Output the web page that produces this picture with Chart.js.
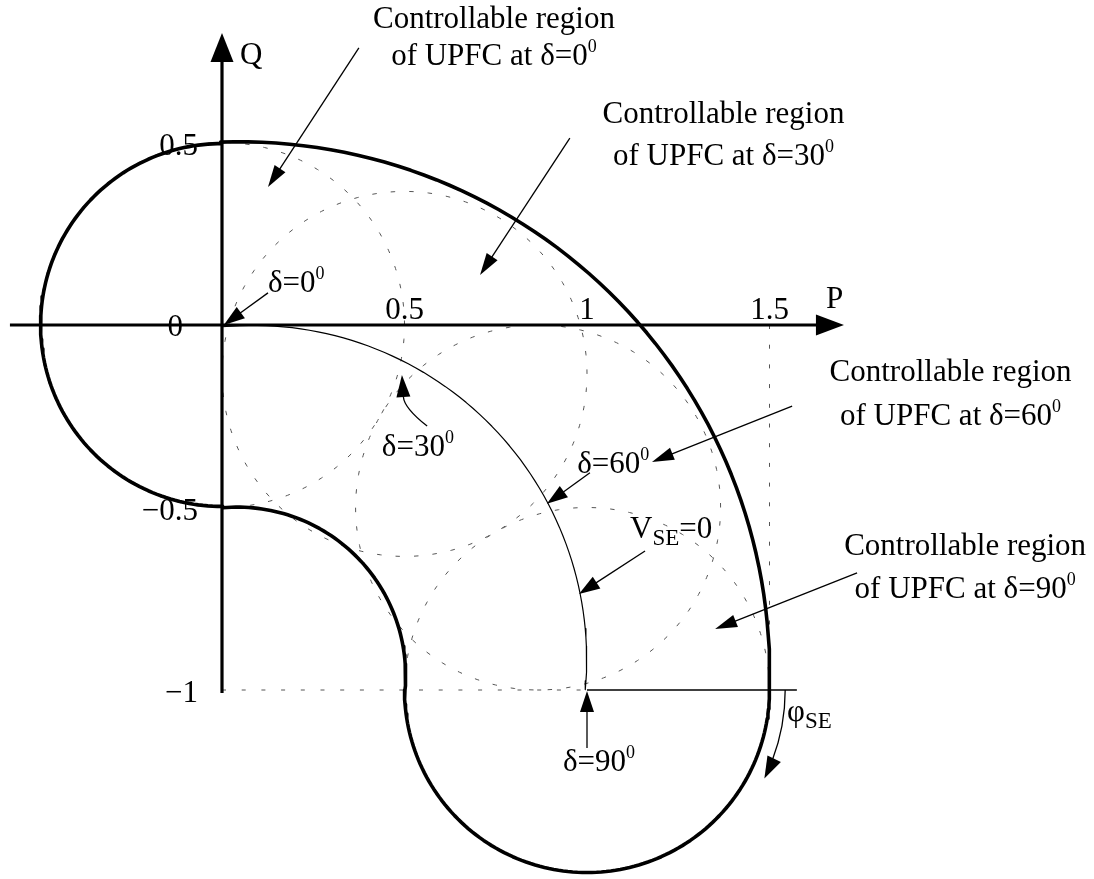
<!DOCTYPE html>
<html>
<head>
<meta charset="utf-8">
<script src="https://cdn.jsdelivr.net/npm/chart.js@4.4.1/dist/chart.umd.min.js"></script>
<style>
html, body { margin: 0; padding: 0; background: #ffffff; }
#wrap { width: 1094px; height: 879px; }
</style>
</head>
<body>
<div id="wrap"><canvas id="pq" width="1094" height="879"></canvas></div>
<script>
// Load angles and the matching uncompensated operating points (V_SE = 0)
const deltaDeg = [0, 30, 60, 90];
const pointP = [0, 0.5, 0.866, 1];        // P0 = sin δ
const pointQ = [0, -0.134, -0.5, -1];     // Q0 = cos δ − 1
const seriesRadius = 0.5;                 // largest series injected voltage

// Envelope of the overall controllable region, traced arc by arc (degrees)
const boundCenterP = [0, 0.042, 1, 0.047];
const boundCenterQ = [0, -0.960, -1, -0.951];
const boundRadius = [0.497, 0.461, 0.5, 1.453];
const boundFrom = [90, 95, 180, -2];
const boundTo = [270, -5, 360, 92];

// Locus of the natural operating point (V_SE = 0)
const locusCenter = [0.084, -0.916];
const locusRadius = 0.915;
const locusSpan = [95.2, -5.2];

// Axis ticks
const pTicks = [0.5, 1, 1.5];
const pTickLabels = ['0.5', '1', '1.5'];
const qTicks = [0.5, -0.5, -1];
const qTickLabels = ['0.5', '\u22120.5', '\u22121'];

// Reference lines at Q = −1 and P = 1.5
const guideQ = -1;
const guideP = 1.5;
const phiRefEnd = 1.575;

// ---------------------------------------------------------------------
const X_MIN = -222 / 365, X_MAX = (1094 - 222) / 365;
const Y_MAX = 325 / 365, Y_MIN = -(879 - 325) / 365;

function arcPoints(cp, cq, r, a0, a1) {
  const n = Math.max(2, Math.ceil(Math.abs(a1 - a0) / 1.5) + 1);
  const pts = [];
  for (let i = 0; i < n; i++) {
    const a = (a0 + (a1 - a0) * i / (n - 1)) * Math.PI / 180;
    pts.push({ x: cp + r * Math.cos(a), y: cq + r * Math.sin(a) });
  }
  return pts;
}

let boundary = [];
for (let i = 0; i < boundRadius.length; i++) {
  boundary = boundary.concat(arcPoints(boundCenterP[i], boundCenterQ[i], boundRadius[i], boundFrom[i], boundTo[i]));
}
boundary.push(boundary[0]);

const locus = arcPoints(locusCenter[0], locusCenter[1], locusRadius, locusSpan[0], locusSpan[1]);

const DASH = [4.5, 14];
function lineSet(data, opts) {
  return Object.assign({
    data, showLine: true, fill: false, tension: 0,
    pointRadius: 0, pointHoverRadius: 0,
    borderColor: '#000', borderWidth: 1, borderCapStyle: 'butt', borderJoinStyle: 'round'
  }, opts);
}

const datasets = [
  lineSet(boundary, { borderWidth: 3.6, order: 0 }),
  lineSet([{ x: -0.581, y: 0 }, { x: 1.63, y: 0 }], { borderWidth: 3.2, order: 1 }),
  lineSet([{ x: 0, y: -1.008 }, { x: 0, y: 0.77 }], { borderWidth: 3.2, order: 1 }),
  lineSet(locus, { borderWidth: 1.2, order: 2 }),
  lineSet([{ x: pointP[3], y: guideQ }, { x: phiRefEnd, y: guideQ }], { borderWidth: 1.5, order: 2 }),
  lineSet([{ x: 0, y: guideQ }, { x: pointP[3], y: guideQ }], { borderColor: '#555', borderDash: [4, 15.7], order: 5 }),
  lineSet([{ x: guideP, y: 0 }, { x: guideP, y: guideQ }], { borderColor: '#555', borderDash: [4, 15.7], order: 5 })
];
for (let i = 0; i < deltaDeg.length; i++) {
  datasets.push(lineSet(arcPoints(pointP[i], pointQ[i], seriesRadius, 0, 360),
    { borderColor: '#555', borderDash: DASH, order: 6 }));
}

// Callouts (positions in P/Q units)
const regionNotes = [
  { cx: 0.745, b1: 0.814, b2: 0.712, from: [0.375, 0.759], to: [0.126, 0.378] },
  { cx: 1.374, b1: 0.553, b2: 0.438, from: [0.953, 0.512], to: [0.707, 0.137] },
  { cx: 1.996, b1: -0.153, b2: -0.274, from: [1.562, -0.222], to: [1.178, -0.375] },
  { cx: 2.036, b1: -0.630, b2: -0.748, from: [1.740, -0.679], to: [1.351, -0.833] }
];
const pointNotes = [
  { x: 0.126, y: 0.090, from: [0.126, 0.088], to: [0.005, 0.0] },
  { x: 0.438, y: -0.359, from: [0.562, -0.277], ctrl: [0.499, -0.227], to: [0.493, -0.137] },
  { x: 0.973, y: -0.405, from: [1.008, -0.405], to: [0.890, -0.490] },
  { x: 0.934, y: -1.222, from: [1.0, -1.159], to: [1.0, -1.003] }
];
const vseNote = { x: 1.118, y: -0.584, from: [1.159, -0.619], to: [0.978, -0.737] };
const phiNote = { x: 1.548, y: -1.085, radius: 0.543, sweep: 26.5 };

const FONT = '"Liberation Serif", "Times New Roman", serif';
const SIZE = { n: 31, sup: 18, sub: 23 };
const SHIFT = { n: 0, sup: -13, sub: 7 };

function runsWidth(ctx, runs) {
  let w = 0;
  for (const [t, k] of runs) { ctx.font = SIZE[k] + 'px ' + FONT; w += ctx.measureText(t).width; }
  return w;
}
function drawRuns(ctx, runs, x, y, align) {
  const w = runsWidth(ctx, runs);
  let cx = align === 'center' ? x - w / 2 : align === 'right' ? x - w : x;
  ctx.textAlign = 'left';
  ctx.textBaseline = 'alphabetic';
  for (const [t, k] of runs) {
    ctx.font = SIZE[k] + 'px ' + FONT;
    ctx.fillText(t, cx, y + SHIFT[k]);
    cx += ctx.measureText(t).width;
  }
}
function head(ctx, tx, ty, dx, dy, len, half) {
  const d = Math.hypot(dx, dy); const ux = dx / d, uy = dy / d;
  const bx = tx - ux * len, by = ty - uy * len;
  ctx.beginPath();
  ctx.moveTo(tx, ty);
  ctx.lineTo(bx - uy * half, by + ux * half);
  ctx.lineTo(bx + uy * half, by - ux * half);
  ctx.closePath();
  ctx.fill();
  return [bx, by];
}
function arrow(ctx, x1, y1, x2, y2, len, half) {
  const [bx, by] = head(ctx, x2, y2, x2 - x1, y2 - y1, len, half);
  ctx.beginPath(); ctx.moveTo(x1, y1); ctx.lineTo(bx + (x2 - x1) * 0.02, by + (y2 - y1) * 0.02); ctx.stroke();
}

const notesPlugin = {
  id: 'notes',
  afterDatasetsDraw(chart) {
    const ctx = chart.ctx;
    const X = v => chart.scales.x.getPixelForValue(v);
    const Y = v => chart.scales.y.getPixelForValue(v);
    ctx.save();
    ctx.fillStyle = '#000';
    ctx.strokeStyle = '#000';

    // axis arrowheads and names
    head(ctx, X(1.704), Y(0), 1, 0, 28, 10.5);
    head(ctx, X(0), Y(0.8), 0, -1, 29, 11.5);
    drawRuns(ctx, [['P', 'n']], X(1.655), Y(0.047), 'left');
    drawRuns(ctx, [['Q', 'n']], X(0.049), Y(0.715), 'left');

    // tick labels
    pTicks.forEach((v, i) => drawRuns(ctx, [[pTickLabels[i], 'n']], X(v), Y(0) - 6, 'center'));
    qTicks.forEach((v, i) => drawRuns(ctx, [[qTickLabels[i], 'n']], X(0) - 24, Y(v) + 12, 'right'));
    drawRuns(ctx, [['0', 'n']], X(0) - 39, Y(0) + 11, 'right');

    ctx.lineWidth = 1.3;
    // controllable-region callouts
    regionNotes.forEach((n, i) => {
      drawRuns(ctx, [['Controllable region', 'n']], X(n.cx), Y(n.b1), 'center');
      drawRuns(ctx, [['of UPFC at \u03b4=' + deltaDeg[i], 'n'], ['0', 'sup']], X(n.cx), Y(n.b2), 'center');
      arrow(ctx, X(n.from[0]), Y(n.from[1]), X(n.to[0]), Y(n.to[1]), 22, 6.5);
    });

    // load-angle markers on the V_SE = 0 locus
    pointNotes.forEach((n, i) => {
      drawRuns(ctx, [['\u03b4=' + deltaDeg[i], 'n'], ['0', 'sup']], X(n.x), Y(n.y), 'left');
      if (n.ctrl) {
        const x1 = X(n.from[0]), y1 = Y(n.from[1]), cx = X(n.ctrl[0]), cy = Y(n.ctrl[1]);
        const x2 = X(n.to[0]), y2 = Y(n.to[1]);
        const [bx, by] = head(ctx, x2, y2, x2 - cx, y2 - cy, 22, 7);
        ctx.beginPath(); ctx.moveTo(x1, y1); ctx.quadraticCurveTo(cx, cy, bx, by); ctx.stroke();
      } else {
        arrow(ctx, X(n.from[0]), Y(n.from[1]), X(n.to[0]), Y(n.to[1]), 21, 7);
      }
    });

    // V_SE = 0
    drawRuns(ctx, [['V', 'n'], ['SE', 'sub'], ['=0', 'n']], X(vseNote.x), Y(vseNote.y), 'left');
    arrow(ctx, X(vseNote.from[0]), Y(vseNote.from[1]), X(vseNote.to[0]), Y(vseNote.to[1]), 21, 7);

    // angle of the series voltage
    drawRuns(ctx, [['\u03c6', 'n'], ['SE', 'sub']], X(phiNote.x), Y(phiNote.y), 'left');
    const ocx = X(pointP[3]), ocy = Y(pointQ[3]);
    const r = phiNote.radius * (X(1) - X(0));
    const t = phiNote.sweep * Math.PI / 180;
    const hl = 22;
    const tb = t - hl / r;
    ctx.beginPath(); ctx.arc(ocx, ocy, r, 0, tb + 0.01, false); ctx.stroke();
    head(ctx, ocx + r * Math.cos(t), ocy + r * Math.sin(t), -Math.sin(t), Math.cos(t), hl, 7.5);
    ctx.restore();
  }
};

new Chart(document.getElementById('pq'), {
  type: 'scatter',
  data: { datasets },
  options: {
    responsive: false,
    animation: false,
    events: [],
    layout: { padding: 0 },
    plugins: { legend: { display: false }, tooltip: { enabled: false } },
    scales: {
      x: { type: 'linear', min: X_MIN, max: X_MAX, display: false },
      y: { type: 'linear', min: Y_MIN, max: Y_MAX, display: false }
    }
  },
  plugins: [notesPlugin]
});
</script>
</body>
</html>
